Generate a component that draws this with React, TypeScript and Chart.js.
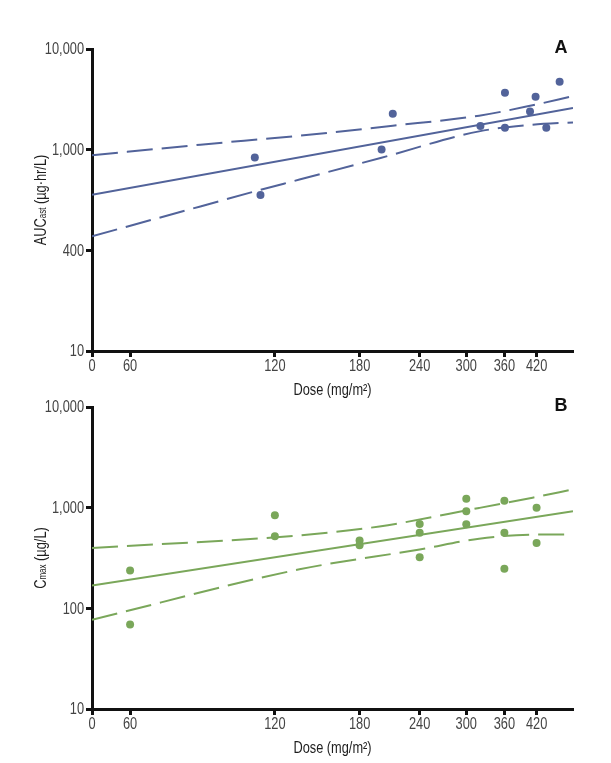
import React, { useEffect, useRef } from 'react';
import { Chart, registerables } from 'chart.js';
Chart.register(...registerables);

// ---------- data ----------
const xTickValues = [50, 60, 120, 180, 240, 300, 360, 420];
const xTickLabels = ['0', '60', '120', '180', '240', '300', '360', '420'];
const yTickValues = [10, 100, 1000, 10000];
const yTickLabelsA = ['10', '400', '1,000', '10,000'];
const yTickLabelsB = ['10', '100', '1,000', '10,000'];

// Panel A: AUCast
const aucDose = [109, 112, 200, 211, 321, 361, 361, 407, 418, 440, 469];
const aucValue = [838, 354, 1006, 2275, 1718, 3680, 1653, 2400, 3357, 1653, 4730];
const aucFitDose = [50, 500];
const aucFit = [357, 2595];
const aucUpperDose = [50, 84, 135, 211, 319, 412, 500];
const aucUpper = [878, 1121, 1377, 1730, 2176, 2760, 3400];
const aucLowerDose = [50, 84, 109, 135, 199, 319, 412, 500];
const aucLower = [138, 273, 385, 505, 827, 1520, 1770, 1866];

// Panel B: Cmax
const cmaxDose = [60, 60, 120, 120, 180, 180, 240, 240, 240, 300, 300, 300, 360, 360, 360, 420, 420];
const cmaxValue = [238, 69, 839, 519, 473, 423, 689, 565, 321, 1228, 919, 683, 1174, 565, 248, 1000, 446];
const cmaxFitDose = [50, 500];
const cmaxFit = [169, 919];
const cmaxUpperDose = [50, 135, 198, 319, 412, 500];
const cmaxUpper = [398, 531, 651, 993, 1256, 1520];
const cmaxLowerDose = [50, 135, 240, 319, 412, 500];
const cmaxLower = [77, 244, 385, 492, 540, 543];

const BLUE = '#52639a';
const GREEN = '#7aa75a';
const FONT = "'Liberation Sans', Arial, sans-serif";
const SQUEEZE = 0.8;

const zip = (xs: number[], ys: number[]) => xs.map((x, i) => ({ x, y: ys[i] }));

function squeezedText(ctx: any, text: string, x: number, y: number) {
  ctx.save();
  ctx.translate(x, y);
  ctx.scale(SQUEEZE, 1);
  ctx.fillText(text, 0, 0);
  ctx.restore();
}

const textPlugin = {
  id: 'panelText',
  afterDraw(chart: any, _args: any, opts: any) {
    const { ctx, chartArea } = chart;
    const xs = chart.scales.x;
    const ys = chart.scales.y;
    ctx.save();
    // tick labels
    ctx.fillStyle = '#444';
    ctx.font = `16px ${FONT}`;
    ctx.textAlign = 'center';
    ctx.textBaseline = 'middle';
    xTickValues.forEach((v, i) => {
      squeezedText(ctx, xTickLabels[i], xs.getPixelForValue(v), chartArea.bottom + 16);
    });
    ctx.textAlign = 'right';
    yTickValues.forEach((v, i) => {
      squeezedText(ctx, opts.yLabels[i], chartArea.left - 8, ys.getPixelForValue(v) + 1);
    });
    // x title
    ctx.fillStyle = '#1e1e1e';
    ctx.font = `16px ${FONT}`;
    ctx.textAlign = 'center';
    squeezedText(ctx, opts.xTitle, (chartArea.left + chartArea.right) / 2, chartArea.bottom + 40);
    // panel letter
    ctx.font = `bold 18px ${FONT}`;
    ctx.fillStyle = '#111';
    ctx.fillText(opts.letter, chartArea.right - 12, chartArea.top - 1);
    // y title with subscript
    const parts: { t: string; sub?: boolean }[] = opts.yParts;
    const mainFont = `16px ${FONT}`;
    const subFont = `10px ${FONT}`;
    let total = 0;
    const widths = parts.map((p) => {
      ctx.font = p.sub ? subFont : mainFont;
      const w = ctx.measureText(p.t).width;
      total += w;
      return w;
    });
    ctx.translate(40, (chartArea.top + chartArea.bottom) / 2);
    ctx.rotate(-Math.PI / 2);
    ctx.scale(SQUEEZE, 1);
    ctx.textAlign = 'left';
    ctx.textBaseline = 'alphabetic';
    ctx.fillStyle = '#1e1e1e';
    let x = -total / 2;
    parts.forEach((p, i) => {
      ctx.font = p.sub ? subFont : mainFont;
      ctx.fillText(p.t, x, p.sub ? 6 : 6);
      x += widths[i];
    });
    ctx.restore();
  },
};

function axisGrid() {
  return {
    display: true,
    drawOnChartArea: false,
    drawTicks: true,
    tickLength: 6,
    tickWidth: 3,
    tickColor: '#111',
  };
}

function makeConfig(p: any) {
  const color = p.color;
  return {
    type: 'scatter',
    data: {
      datasets: [
        {
          data: zip(p.fitDose, p.fit),
          showLine: true,
          borderColor: color,
          borderWidth: 2,
          pointRadius: 0,
        },
        {
          data: zip(p.upperDose, p.upper),
          showLine: true,
          borderColor: color,
          borderWidth: 2,
          borderDash: [26, 9],
          pointRadius: 0,
          cubicInterpolationMode: 'monotone',
        },
        {
          data: zip(p.lowerDose, p.lower),
          showLine: true,
          borderColor: color,
          borderWidth: 2,
          borderDash: [26, 9],
          pointRadius: 0,
          cubicInterpolationMode: 'monotone',
        },
        {
          data: zip(p.dose, p.values),
          showLine: false,
          backgroundColor: color,
          borderColor: color,
          pointRadius: 4,
          borderWidth: 0,
        },
      ],
    },
    options: {
      animation: false,
      responsive: false,
      maintainAspectRatio: false,
      layout: { padding: { top: p.top, right: 38, left: 0, bottom: 0 } },
      plugins: {
        legend: { display: false },
        tooltip: { enabled: false },
        panelText: {
          xTitle: 'Dose (mg/m²)',
          letter: p.letter,
          yParts: p.yParts,
          yLabels: p.yLabels,
        },
      },
      scales: {
        x: {
          type: 'logarithmic',
          min: 50,
          max: 500,
          afterBuildTicks: (scale: any) => {
            scale.ticks = xTickValues.map((v) => ({ value: v }));
          },
          afterFit: (scale: any) => {
            scale.height = p.xAxisHeight;
          },
          ticks: {
            autoSkip: false,
            maxRotation: 0,
            padding: 2,
            color: 'rgba(0,0,0,0)',
            font: { family: FONT, size: 15 },
            callback: (v: any) => {
              const i = xTickValues.indexOf(Number(v));
              return i >= 0 ? xTickLabels[i] : '';
            },
          },
          grid: axisGrid(),
          border: { display: true, color: '#111', width: 3 },
        },
        y: {
          type: 'logarithmic',
          min: 10,
          max: 10000,
          afterBuildTicks: (scale: any) => {
            scale.ticks = yTickValues.map((v) => ({ value: v }));
          },
          afterFit: (scale: any) => {
            scale.width = 92;
          },
          ticks: {
            autoSkip: false,
            padding: 2,
            color: 'rgba(0,0,0,0)',
            font: { family: FONT, size: 15 },
            callback: (v: any) => {
              const i = yTickValues.indexOf(Number(v));
              return i >= 0 ? p.yLabels[i] : '';
            },
          },
          grid: axisGrid(),
          border: { display: true, color: '#111', width: 3 },
        },
      },
    },
    plugins: [textPlugin],
  };
}

function Panel(props: { cfg: any; top: number; height: number }) {
  const ref = useRef<HTMLCanvasElement>(null);
  useEffect(() => {
    if (!ref.current) return;
    const chart = new Chart(ref.current, makeConfig(props.cfg) as any);
    return () => chart.destroy();
  }, []);
  return (
    <canvas
      ref={ref}
      width={611}
      height={props.height}
      style={{ position: 'absolute', left: 0, top: props.top, width: 611, height: props.height }}
    />
  );
}

export default function App() {
  const cfgA = {
    color: BLUE,
    letter: 'A',
    top: 49,
    xAxisHeight: 59,
    yLabels: yTickLabelsA,
    yParts: [{ t: 'AUC' }, { t: 'ast', sub: true }, { t: ' (µg·hr/L)' }],
    dose: aucDose,
    values: aucValue,
    fitDose: aucFitDose,
    fit: aucFit,
    upperDose: aucUpperDose,
    upper: aucUpper,
    lowerDose: aucLowerDose,
    lower: aucLower,
  };
  const cfgB = {
    color: GREEN,
    letter: 'B',
    top: 37,
    xAxisHeight: 54,
    yLabels: yTickLabelsB,
    yParts: [{ t: 'C' }, { t: 'max', sub: true }, { t: ' (µg/L)' }],
    dose: cmaxDose,
    values: cmaxValue,
    fitDose: cmaxFitDose,
    fit: cmaxFit,
    upperDose: cmaxUpperDose,
    upper: cmaxUpper,
    lowerDose: cmaxLowerDose,
    lower: cmaxLower,
  };
  return (
    <div style={{ position: 'absolute', left: 0, top: 0, width: 611, height: 763, background: '#fff' }}>
      <Panel cfg={cfgA} top={0} height={410} />
      <Panel cfg={cfgB} top={370} height={393} />
    </div>
  );
}
